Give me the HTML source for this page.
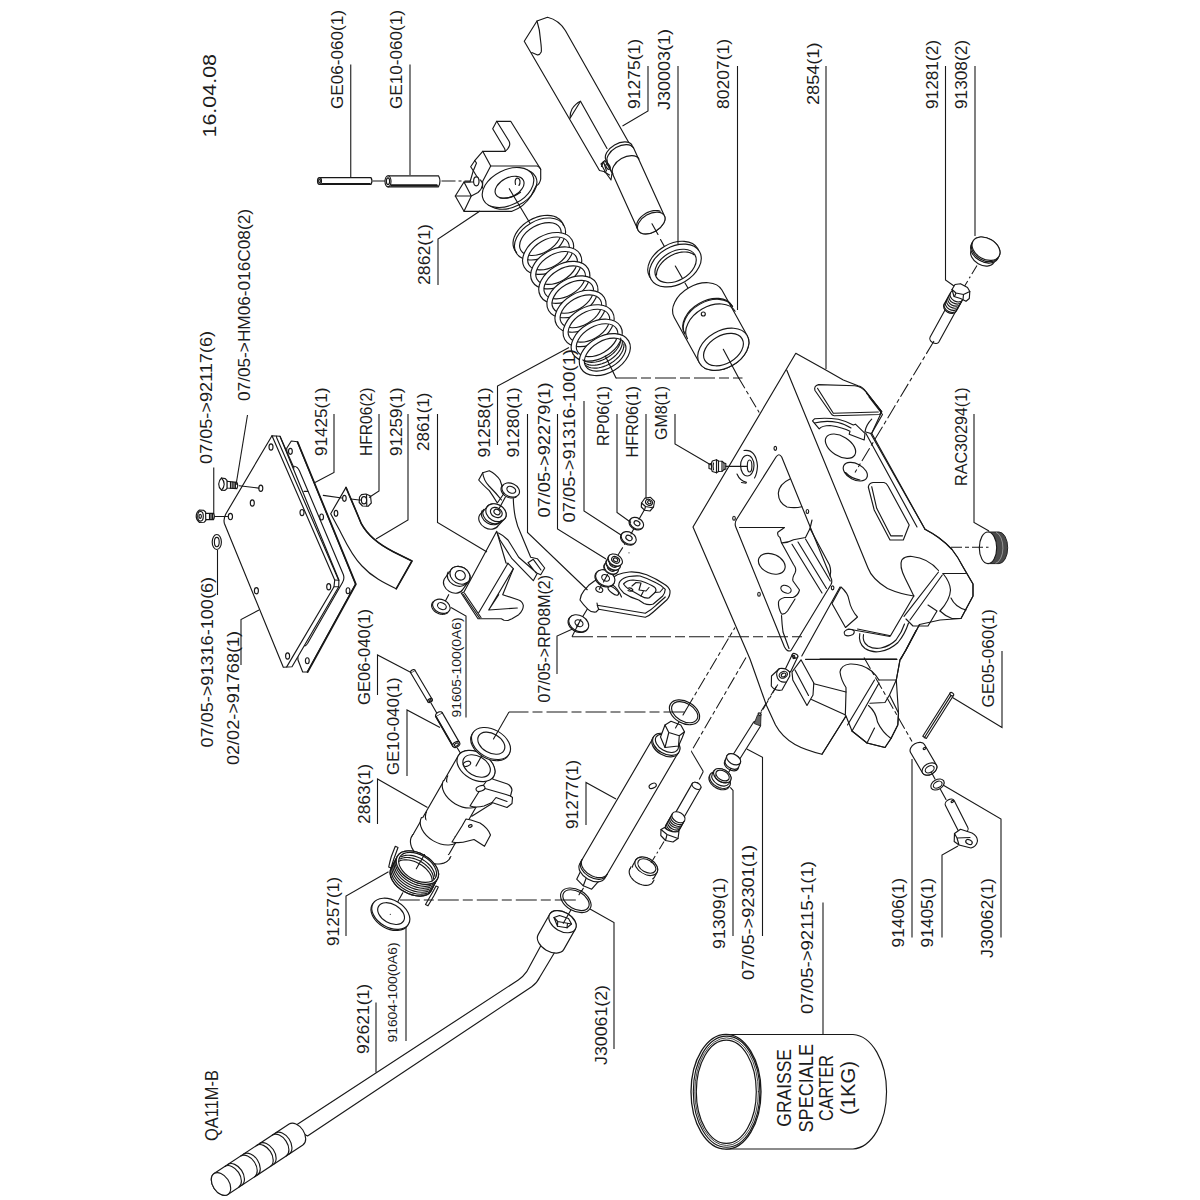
<!DOCTYPE html>
<html><head><meta charset="utf-8"><title>QA11M-B</title>
<style>
html,body{margin:0;padding:0;background:#fff;}
body{width:1200px;height:1200px;overflow:hidden;font-family:"Liberation Sans",sans-serif;}
svg{display:block}
.p{fill:none;stroke:#181818;stroke-width:1.15;stroke-linejoin:round;stroke-linecap:round}
.w{fill:#fff;stroke:#181818;stroke-width:1.15;stroke-linejoin:round;stroke-linecap:round}
.d{fill:none;stroke:#181818;stroke-width:1.05;stroke-dasharray:14 3 3 3}
</style></head><body>
<svg width="1200" height="1200" viewBox="0 0 1200 1200">
<rect width="1200" height="1200" fill="#fff"/>
<!-- 01_plate.svg -->
<g id="plate">
<!-- gasket 91425 -->
<path class="w" d="M291.3,441 L297.3,441.7 L355.6,584 L307.3,672 L302.7,672 L298,660 L286.7,448.3 Z"/>
<path class="p" style="stroke-width:1.8" d="M297.6,442 L355.8,584.2 L307.6,672"/>
<ellipse class="p" cx="290.4" cy="451.3" rx="1.9" ry="3"/>
<ellipse class="p" cx="321.6" cy="517" rx="1.9" ry="3"/>
<ellipse class="p" cx="348" cy="590.7" rx="1.9" ry="3"/>
<ellipse class="p" cx="307.3" cy="660.7" rx="1.9" ry="3"/>
<!-- plate underside boss (line c) -->
<path class="w" d="M280,436.3 L343.5,574 Q345,578.5 342.7,582 L306,645 Q303.5,647.5 304.7,645.3 L292,666.7 L272,500 Z" style="stroke:none"/>
<path class="p" d="M294,466.3 Q297.5,466.5 299.5,471 L343.3,574.5 Q344.8,578.5 342.5,582.5 L307.5,643.5 Q305.5,646.5 304.3,645.6"/>
<!-- plate 91768 -->
<path class="w" d="M272,435.7 L280,436.3 L338.9,580 L338.7,586.7 L292,666.7 L283.3,667.3 L224.4,523.5 Q223.2,519 225.8,514 Z"/>
<path class="p" d="M272,435.7 L334.7,580 L334,586.7 L286.7,666.9"/>
<path class="p" d="M276.4,436.2 L276.7,437.7 L338.7,580.3"/>
<path class="p" d="M334.7,580 L338.7,580.3 M334,586.7 L338.7,586.7"/>
<path class="p" d="M280,436.3 L294,468"/>
<path class="p" d="M304,491.3 L308,491.3"/>
<g class="p">
<ellipse cx="271" cy="447" rx="2" ry="3.1"/>
<ellipse cx="260.8" cy="488.3" rx="2" ry="3.1"/>
<ellipse cx="252.3" cy="503" rx="2" ry="3.1"/>
<ellipse cx="230.4" cy="516.5" rx="2.1" ry="3.2"/>
<ellipse cx="302" cy="512.6" rx="2" ry="3.1"/>
<ellipse cx="256.4" cy="590.7" rx="2" ry="3.1"/>
<ellipse cx="328.7" cy="586.7" rx="2" ry="3.1"/>
<ellipse cx="287.6" cy="656" rx="2" ry="3.1"/>
</g>
<!-- screw 92117 -->
<path class="w" d="M205.4,513.3 L213.5,513.3 Q215.3,516.5 213.5,519.6 L205.4,519.6 Z"/>
<path class="p" d="M209.5,513.5 V519.5 M211,513.5 V519.5 M212.5,513.6 V519.4"/>
<path class="w" d="M199.5,510 L203.5,510.3 L205.6,512 L205.8,520.5 L204,522.3 L199.5,522.5 Q196,519.5 196.2,516 Q196.4,512 199.5,510 Z"/>
<ellipse class="p" cx="200.5" cy="516.3" rx="2.8" ry="4.8"/>
<ellipse class="p" cx="200.2" cy="516.3" rx="1.2" ry="2"/>
<path class="p" d="M215,516.5 H227.5"/>
<!-- screw HM06 -->
<path class="w" d="M226.7,481.3 L236.8,482.4 Q238.6,485.5 236.8,488.6 L226.7,488 Z"/>
<path class="p" d="M230.5,481.8 V488.2 M232.2,482 V488.3 M233.9,482.2 V488.4 M235.4,482.4 V488.5"/>
<path class="w" d="M221.5,478 L225.3,478.6 L227,480.5 L227,488.5 L225,490.4 L221.5,490.2 Q218.6,487.5 218.7,484 Q218.9,480.3 221.5,478 Z"/>
<path class="p" d="M221.5,478 Q224.3,481 224.2,484.3 Q224.1,487.7 221.5,490.2"/>
<path class="p" d="M239.2,485.8 L258.8,488.1"/>
<!-- washer 91316-100(6) -->
<ellipse class="w" cx="216.8" cy="542" rx="4.6" ry="7.5"/>
<ellipse class="p" cx="216.8" cy="542" rx="2.4" ry="4.7"/>
<!-- strip 91259 -->
<path class="w" d="M346,487.4 C350,497 354,506 361.3,523.7 C368,536 380,545 393.3,551.7 L412,561 L396.2,588.8 C384,583 372,577 362,566 C352,556 346,543 340,531 L330.7,513.7 Z"/>
<path class="p" style="stroke-width:1.6" d="M346,487.4 C350,497 354,506 361.3,523.7 C368,536 380,545 393.3,551.7 L412,561 L396.2,588.8"/>
<ellipse class="p" cx="344.4" cy="498.3" rx="1.8" ry="3"/>
<ellipse class="p" cx="336" cy="513.3" rx="1.8" ry="3"/>
<path class="p" d="M323.3,495.4 L341.8,498 M350.7,499 L359.3,500"/>
<!-- nut HFR06(2) -->
<path class="w" d="M361.5,494.6 L366,494 L370.5,496 L371.3,503 L368,506.3 L362.5,506 L359.2,502.5 L359.5,497 Z"/>
<ellipse class="p" cx="364" cy="500.3" rx="2.6" ry="3.6"/>
<path class="p" d="M366.5,494.5 L366.8,506 M359.5,500 H361.4"/>
</g>

<!-- 02_block2862.svg -->
<g id="block2862">
<!-- pins GE06-060 / GE10-060 -->
<path class="w" d="M319.5,177.6 H371 Q373,181 371,184.4 H319.5 Z"/>
<ellipse class="w" cx="319.5" cy="181" rx="2" ry="3.4"/>
<ellipse class="p" cx="319.5" cy="181" rx="0.9" ry="1.9"/>
<path class="p" d="M322,183.6 H370"/>
<path class="p" d="M373,181 H385"/>
<path class="w" d="M388,175.8 H438.5 Q441.5,181.2 438.5,186.8 H388 Z"/>
<ellipse class="w" cx="388" cy="181.3" rx="3" ry="5.5"/>
<ellipse class="p" cx="388" cy="181.3" rx="1.6" ry="3.4"/>
<path class="p" d="M391,185.8 H438 M391,184.8 H437"/>
<path class="d" d="M441.5,181 H476"/>
<!-- block silhouette -->
<path class="w" d="M496.7,121.3 L510.7,121.3 L540.7,169.3 L540.7,179 Q540,184 536,186 L531,196 Q524,207 512,211.3 L464,211.3 L455.3,196 L464,182 L470,182 L473.3,170.7 L470.7,166.7 L474.7,160.7 L482.7,151.3 L505.3,151.3 L504.7,148.7 L492.7,128.7 Z"/>
<g class="p">
<path d="M496.7,121.3 L509.1,141.3 Q510.3,144 509.3,146 Q508,149.5 505.3,151.3"/>
<path d="M482.7,151.3 L490.7,166 L537.3,166 Q540,167 540.7,169.3"/>
<path d="M490.7,166 L482.7,181.3 L482.5,188"/>
<path d="M474.7,160.7 L476.5,163 L473.3,170.7 L479,180"/>
<path d="M464,182 L478.7,182 M464,182 L471.3,196 L455.3,196 M471.3,196 L464,211.3"/>
<path d="M471.3,196 L478,192.5 Q482,189 482.5,185 Q482.5,182 480.5,180"/>
</g>
<ellipse class="w" cx="476.3" cy="181.3" rx="2.7" ry="4.5"/>
<!-- boss -->
<g transform="rotate(-27 508 187.5)">
<ellipse class="p" cx="510" cy="190.5" rx="27.5" ry="17.5"/>
<ellipse class="w" cx="508" cy="187.5" rx="27.5" ry="17.5"/>
<ellipse class="p" cx="509.5" cy="188" rx="15.5" ry="9.5"/>
<path class="p" d="M496,193 Q505,199.5 517,197.5"/>
</g>
<path class="p" d="M515.5,184.5 Q514.5,180 516.5,178.3 Q519,177.5 520,181 Q520.3,184 519,185.5"/>
<path class="p" d="M509.3,188.7 L530,223.3"/>
</g>

<!-- 03_spring.svg -->
<g id="spring91258">
<path transform="rotate(-30 540.00 239.00)" d="M512.50,239.00 A27.5,18.3 0 1 0 567.50,239.00 A27.5,18.3 0 1 0 512.50,239.00 Z M517.70,239.20 A22.6,13.8 0 1 0 562.90,239.20 A22.6,13.8 0 1 0 517.70,239.20 Z" fill="#fff" fill-rule="evenodd" stroke="#181818" stroke-width="1.15"/>
<path transform="rotate(-30 548.10 253.45)" d="M520.60,253.45 A27.5,18.3 0 1 0 575.60,253.45 A27.5,18.3 0 1 0 520.60,253.45 Z M525.80,253.65 A22.6,13.8 0 1 0 571.00,253.65 A22.6,13.8 0 1 0 525.80,253.65 Z" fill="#fff" fill-rule="evenodd" stroke="#181818" stroke-width="1.15"/>
<path transform="rotate(-30 556.20 267.90)" d="M528.70,267.90 A27.5,18.3 0 1 0 583.70,267.90 A27.5,18.3 0 1 0 528.70,267.90 Z M533.90,268.10 A22.6,13.8 0 1 0 579.10,268.10 A22.6,13.8 0 1 0 533.90,268.10 Z" fill="#fff" fill-rule="evenodd" stroke="#181818" stroke-width="1.15"/>
<path transform="rotate(-30 564.30 282.35)" d="M536.80,282.35 A27.5,18.3 0 1 0 591.80,282.35 A27.5,18.3 0 1 0 536.80,282.35 Z M542.00,282.55 A22.6,13.8 0 1 0 587.20,282.55 A22.6,13.8 0 1 0 542.00,282.55 Z" fill="#fff" fill-rule="evenodd" stroke="#181818" stroke-width="1.15"/>
<path transform="rotate(-30 572.40 296.80)" d="M544.90,296.80 A27.5,18.3 0 1 0 599.90,296.80 A27.5,18.3 0 1 0 544.90,296.80 Z M550.10,297.00 A22.6,13.8 0 1 0 595.30,297.00 A22.6,13.8 0 1 0 550.10,297.00 Z" fill="#fff" fill-rule="evenodd" stroke="#181818" stroke-width="1.15"/>
<path transform="rotate(-30 580.50 311.25)" d="M553.00,311.25 A27.5,18.3 0 1 0 608.00,311.25 A27.5,18.3 0 1 0 553.00,311.25 Z M558.20,311.45 A22.6,13.8 0 1 0 603.40,311.45 A22.6,13.8 0 1 0 558.20,311.45 Z" fill="#fff" fill-rule="evenodd" stroke="#181818" stroke-width="1.15"/>
<path transform="rotate(-30 588.60 325.70)" d="M561.10,325.70 A27.5,18.3 0 1 0 616.10,325.70 A27.5,18.3 0 1 0 561.10,325.70 Z M566.30,325.90 A22.6,13.8 0 1 0 611.50,325.90 A22.6,13.8 0 1 0 566.30,325.90 Z" fill="#fff" fill-rule="evenodd" stroke="#181818" stroke-width="1.15"/>
<path transform="rotate(-30 596.70 340.15)" d="M569.20,340.15 A27.5,18.3 0 1 0 624.20,340.15 A27.5,18.3 0 1 0 569.20,340.15 Z M574.40,340.35 A22.6,13.8 0 1 0 619.60,340.35 A22.6,13.8 0 1 0 574.40,340.35 Z" fill="#fff" fill-rule="evenodd" stroke="#181818" stroke-width="1.15"/>
<path transform="rotate(-30 604.80 354.60)" d="M577.30,354.60 A27.5,18.3 0 1 0 632.30,354.60 A27.5,18.3 0 1 0 577.30,354.60 Z M582.50,354.80 A22.6,13.8 0 1 0 627.70,354.80 A22.6,13.8 0 1 0 582.50,354.80 Z" fill="#fff" fill-rule="evenodd" stroke="#181818" stroke-width="1.15"/>
<path class="p" d="M623.89,343.88 L623.94,345.50 L623.75,347.20 L623.31,348.94 L622.63,350.73 L621.72,352.52 L620.59,354.30 L619.25,356.06 L617.73,357.76 L616.03,359.38 L614.17,360.92 L612.19,362.35 L610.10,363.65 L607.93,364.81 L605.70,365.81 L603.44,366.65 L601.18,367.31 L598.95,367.78 L596.76,368.06 L594.65,368.15 L592.64,368.04 L590.76,367.74 L589.03,367.24 L587.46,366.56 L586.08,365.71" />
<path class="p" d="M622.29,340.98 L622.34,342.60 L622.15,344.30 L621.71,346.04 L621.03,347.83 L620.12,349.62 L618.99,351.40 L617.65,353.16 L616.13,354.86 L614.43,356.48 L612.57,358.02 L610.59,359.45 L608.50,360.75 L606.33,361.91 L604.10,362.91 L601.84,363.75 L599.58,364.41 L597.35,364.88 L595.16,365.16 L593.05,365.25 L591.04,365.14 L589.16,364.84 L587.43,364.34 L585.86,363.66 L584.48,362.81" />
<path class="p" d="M620.69,338.08 L620.74,339.70 L620.55,341.40 L620.11,343.14 L619.43,344.93 L618.52,346.72 L617.39,348.50 L616.05,350.26 L614.53,351.96 L612.83,353.58 L610.97,355.12 L608.99,356.55 L606.90,357.85 L604.73,359.01 L602.50,360.01 L600.24,360.85 L597.98,361.51 L595.75,361.98 L593.56,362.26 L591.45,362.35 L589.44,362.24 L587.56,361.94 L585.83,361.44 L584.26,360.76 L582.88,359.91" />
<path class="p" d="M516.63,252.59 L514.96,250.51 L513.78,248.12 L513.13,245.48 L513.01,242.65 L513.43,239.68 L514.37,236.65 L515.83,233.60 L517.77,230.61 L520.14,227.75 L522.90,225.06 L525.99,222.61 L529.35,220.45 L532.90,218.63 L536.56,217.17 L540.27,216.13 L543.94,215.50 L547.50,215.32 L550.86,215.58 L553.97,216.28 L556.74,217.40 L559.14,218.92 L561.09,220.80 L562.57,223.02 L563.54,225.51" />
<path class="p" d="M605.3,356 L616,378"/>
</g>
<!-- 04_shaft.svg -->
<g id="shaft91275">
<path class="w" d="M524.25,41.25 L537,21 L547.5,17.25 Q559,20 565.5,30.75 L633,150 L634.8,154 L620,168 L606,172 L599.5,170.5 Z"/>
<path class="p" d="M537,21 Q540,30 540.5,40 Q541.8,50 541.2,52 Q539.5,55.5 537,54.75 L531.75,52.5"/>
<path class="p" d="M570,118.5 Q569.8,113 572,109 Q575.5,103.5 580.5,101.25 L607,148.5"/>
<path class="p" d="M570.5,117.5 L580.5,101.25"/>
<path class="w" d="M638.26,230.50 L607.61,163.00 A15,9.2 -30 0 1 633.59,148.00 L664.24,215.50 A15,9.2 -30 0 1 638.26,230.50 Z"/><ellipse class="w" cx="651.25" cy="223.00" rx="15" ry="9.2" transform="rotate(-30 651.25 223.00)" />
<path class="p" d="M637.01,228.18 L636.71,227.20 L636.58,226.16 L636.61,225.06 L636.80,223.91 L637.15,222.74 L637.66,221.55 L638.33,220.35 L639.13,219.18 L640.07,218.02 L641.13,216.91 L642.30,215.85 L643.56,214.86 L644.91,213.94 L646.32,213.11 L647.78,212.38 L649.27,211.76 L650.77,211.26 L652.27,210.87 L653.74,210.61 L655.18,210.48 L656.55,210.47 L657.86,210.60 L659.07,210.85 L660.18,211.24" />
<path class="w" d="M606.11,160.30 A15,9.2 -30 0 1 632.09,145.30" />
<path class="p" d="M607.61,163.00 A15,9.2 -30 0 1 633.59,148.00" />
<path class="p" d="M613.01,174.00 A15,9.2 -30 0 1 638.99,159.00" />
<path class="w" d="M601,164 L605,160.5 L612,173 L611,180 L606,173 Z"/>
<ellipse class="p" cx="608" cy="166.5" rx="1.8" ry="3" transform="rotate(-30 608 166.5)"/>
<path class="p" d="M601.5,166.5 L603.5,161.5 L606.5,171 M604.5,172 L609.5,175"/>
<path class="p" d="M652.00,223.75 L658.00,234.50" />
<path class="p" d="M660.50,239.50 L665.50,248.50" />
</g>
<g id="ringJ30003">
<ellipse class="w" cx="673.70" cy="262.70" rx="27.9" ry="18.75" transform="rotate(-30 673.70 262.70)" />
<ellipse class="w" cx="675.30" cy="265.50" rx="27.9" ry="18.75" transform="rotate(-30 675.30 265.50)" />
<ellipse class="p" cx="675.60" cy="266.00" rx="22.3" ry="14.4" transform="rotate(-30 675.60 266.00)" />
<path class="p" d="M656.49,274.91 L656.59,273.24 L656.91,271.52 L657.46,269.77 L658.23,268.01 L659.21,266.25 L660.38,264.53 L661.75,262.84 L663.28,261.23 L664.96,259.69 L666.79,258.26 L668.72,256.94 L670.75,255.75 L672.85,254.71 L674.99,253.82 L677.16,253.10 L679.33,252.55 L681.48,252.18 L683.57,252.00 L685.60,251.99 L687.53,252.18 L689.34,252.55 L691.02,253.09 L692.54,253.82 L693.89,254.70" />
<path class="p" d="M675.30,266.00 L682.50,278.50" />
<path class="p" d="M685.00,283.00 L690.00,291.50" />
</g>
<g id="bush80207">
<path class="w" d="M699.48,363.05 L674.28,317.55 A27.5,18.5 -30 0 1 721.92,290.05 L747.12,335.55 A27.5,18.5 -30 0 1 699.48,363.05 Z"/><ellipse class="w" cx="723.30" cy="349.30" rx="27.5" ry="18.5" transform="rotate(-30 723.30 349.30)" />
<ellipse class="p" cx="723.50" cy="349.60" rx="21.5" ry="14" transform="rotate(-30 723.50 349.60)" />
<path class="p" d="M684.48,333.25 A27.5,18.5 -30 0 1 732.12,305.75" />
<path class="p" d="M684.98,334.15 A27.5,18.5 -30 0 1 732.62,306.65" />
<path class="p" d="M687.48,338.75 A27.5,18.5 -30 0 1 735.12,311.25" />
<circle class="w" cx="703.3" cy="314" r="2"/>
<path class="p" d="M723.30,349.30 L738.70,378.00" />
</g>
<!-- 05_body.svg -->
<g id="body2854">
<!-- silhouette -->
<path class="w" d="M795.8,353.3 L825.8,370 L843.3,380 L858,385.8 Q863,387 866,391.7 L881.7,411.7 L871.7,433.3 L925,529.3 Q932,533 938.5,537.5 Q946,543 952,549.5 Q958,557 962.5,566 L973,584 L973,596 L961,618.5 L940,620 L919.5,624.5 L906,650 L900,659.8 L896.3,680 L898.5,713 L897.8,725 L891,738.5 L885,747.5 L867,743 L852,731 L846,716 L822,754.3 Q805,750 795,744.5 Q782,737 775.5,725 L766.5,705.5 L750,659 L693,527 Z"/>
<g class="p">
<!-- top face edges -->
<path d="M786.7,370 L868,568 Q872,579 887.5,588.5 Q900,594 913.8,596"/>
<!-- window -->
<path d="M776,457 L736.8,519 Q734.2,523 735.8,527 L784.5,647 Q787.5,652.5 791,650.5 L831,584.5 Q832.6,581.5 831,578 L781.7,457 Q779,452.5 776,457 Z"/>
<path d="M801.8,656 L840,587"/>
<!-- small holes on top face -->
<ellipse cx="775.3" cy="448.3" rx="1.3" ry="2"/><ellipse cx="807.4" cy="511.5" rx="1.3" ry="2"/>
<ellipse cx="734" cy="518.2" rx="1.3" ry="2"/><ellipse cx="759" cy="594.2" rx="1.3" ry="2"/>
<ellipse cx="832.6" cy="587.8" rx="1.3" ry="2"/>
<!-- grease boss -->
<ellipse cx="747.3" cy="465.6" rx="6.7" ry="10.4"/>
<ellipse cx="749.6" cy="466" rx="2.3" ry="6"/>
<path d="M744,450.5 Q756,449 757.5,466 Q757,474 754.5,478"/>
<path d="M737,474 Q740,481 746.5,482.3 M741.5,482.5 L746,483.2"/>
<!-- inside window -->
<path d="M790,479 Q779,484 778.3,493.3 Q778.5,503 787,507 Q795,508.5 801.7,506.7"/>
<path d="M739.5,527.5 H784.5 L777.8,532.3 Q777,536 780,537.5 L781.5,542.8 Q788,543 793.5,539.8 L805.5,537.5 L810,528.5 L812,520"/>
<path d="M781.5,542.8 L793.5,564.5 Q797,569 795,573 Q792,578 793,581 L799.5,590 Q798,596 793,597.5 L784.5,597.5 Q779,599 778.5,602 Q778,608 781.5,614 Q785,614.5 787.5,611 L795,599"/>
<path d="M781.5,615.5 Q782,625 783,632 L789,648.5"/>
<ellipse cx="771.8" cy="563.8" rx="14" ry="9.6" transform="rotate(24 771.8 563.8)"/>
<ellipse cx="786" cy="589.3" rx="5.4" ry="3.6" transform="rotate(24 786 589.3)"/>
<path d="M792,544.3 L822,593 M798,542 L826.5,588.5 M805.5,539 L830.3,581 M810,528.5 L829.5,565 Q831.5,571 830,576"/>
<!-- side face: pad 1 -->
<path d="M818.5,384.6 L855,385.8 Q862,387 865.8,391.7 L880.5,410.5 Q881.5,413.8 879.2,414.5 L834.2,415.8 Q832,415.5 831,413.5 L815,390.5 Q813.5,386 818.5,384.6 Z"/>
<path d="M817.5,388.3 L833.3,413.3 L878.3,412"/>
<path d="M866.7,393.3 L881.7,411.7 M869,397 L882.5,414.5 L871.7,433.3"/>
<path d="M871.7,419.2 Q866,425 865,431.7 L870,433.3"/>
<!-- bracket -->
<path d="M812.5,420.8 L814.5,418.8 Q826,417.5 838.3,419.2 Q846,421 853.3,425 L855.4,424.2 L865,433.3 L864.2,440 L849.2,434.2 L850,431.3 Q843,427.5 830,425.5 Q822,425.5 819.2,428.8 Z"/>
<path d="M814.5,423 Q826,420 838,422.5 Q846,424.5 851,428"/>
<!-- rail -->
<path d="M865.8,433.3 L917,527 M870.5,433.3 L925,529.3"/>
<!-- holes -->
<ellipse cx="840.5" cy="446.2" rx="16.8" ry="9.8" transform="rotate(32 840.5 446.2)"/>
<ellipse cx="855.3" cy="471.7" rx="13" ry="8" transform="rotate(28 855.3 471.7)"/>
<path d="M845.5,472.5 Q851,478.5 860,480"/>
<!-- pad 2 -->
<path d="M873,482.5 L884,482.5 Q886.5,483 888,486 L909.2,525 L903.3,540 L890,540 L874.2,510 L868.3,487 Q869,483 873,482.5 Z"/>
<path d="M871.7,486.7 L876.7,508.3 L890.8,535.8 L902.5,535.8"/>
<!-- upper fork arm -->
<path d="M925,529.3 Q932,533 938.5,537.5 Q946,543 952,549.5 Q958,557 962.5,566 L973,584 L973,596 L961,618.5 L952,618.5 Q945,616 940,611"/>
<path d="M943,573.5 H965.5"/>
<path d="M943,573.5 Q950,582 950.5,590 Q950,600 940,611"/>
<path d="M951,598 Q955,607 966,610"/>
<!-- U cutout 1 -->
<path d="M913.8,596 Q910,588 905,578 Q899,566 901.8,560 Q905,556 912,556.5 Q928,558 938.5,570.5"/>
<!-- rod 1 -->
<path d="M938.5,572 L904,616.3 M942.3,575 L910,620"/>
<!-- lower right block -->
<path d="M928,605 L937,611 L928,626 L913,626 L906,619"/>
<!-- lower fork edges -->
<path d="M913.8,596 L890.5,635.8 L857.5,629"/>
<path d="M919.5,624.5 L906,650 L900,659.8 L896.3,680"/>
<path d="M916,630.5 L901,659"/>
<!-- semicircle arcs -->
<path d="M859.8,633.5 Q858,643 865,648.5 Q872,653 880,651.5 Q890,650 898,642.5 Q905,634 908.5,623"/>
<path d="M863.5,634.5 Q862,642 868,646 Q874,649.5 881,648 Q890,646 896,640 Q902,632 904.5,624"/>
<!-- clip -->
<path d="M844.5,631.5 Q847,628.5 852,629.5 Q856,631 853,634.5 Q848,637 845,635 Q843.5,633.5 844.5,631.5 Z"/>
<path d="M848,629 L890,636.5"/>
<!-- parallelogram plate -->
<path d="M841,587 L832,603.5 L845.5,627.5 L857.5,617 Q851,610 849,600 Q848,593 841,587 Z"/>
<!-- front horizontal -->
<path d="M805.5,659.3 H897"/>
<path d="M820,659 H896.5"/>
<!-- blade -->
<path d="M801,659.8 L813.8,683 L813,695 L807,705.5 L792.8,680 L792,672 Z"/>
<path d="M795,670 L808.5,695.5"/>
<!-- lower arm edges -->
<path d="M813.8,683.8 L846,692 M811.5,699.5 L844.5,714.5"/>
<!-- U cutout 2 -->
<path d="M845.3,716 L846,692 L846,687.5 Q841,680 840,672 Q841,665 850,664 Q862,663.5 871.5,671 Q876,675 879,680"/>
<!-- rod 2 -->
<path d="M874.5,680 L847.5,725 M879,683 L852,731"/>
<path d="M879,680 H896.3"/>
<path d="M896.3,680 L889.5,695 L885,702.5 L870,703.3"/>
<path d="M889.5,695 L898.5,713 L897.8,725 L891,738.5 L885,747.5 L867,743 L852,731"/>
<path d="M868.5,705.5 Q876,712 877.5,722 Q882,732 891,738.5"/>
<path d="M867,743 L874.5,728"/>
<path d="M846,716 L822,754.3"/>
</g>
<!-- small pin & bush at bottom-left of body front -->
<g>
<path class="w" d="M792.3,654.5 L797.8,656.8 L790.5,672 L785,669.8 Z"/>
<ellipse class="w" cx="795" cy="655.8" rx="3" ry="2" transform="rotate(25 795 655.8)"/>
<ellipse class="p" cx="793.8" cy="657" rx="1" ry="1.6"/>
<path class="w" d="M771.5,676 L779.5,668.5 Q786,667.5 789.5,672 L789.8,676 L782,690 Q775,691.5 771.3,686 Z"/>
<ellipse class="p" cx="783.3" cy="674.8" rx="4.3" ry="3.2" transform="rotate(-25 783.3 674.8)"/>
<ellipse class="p" cx="783.6" cy="675" rx="2.4" ry="1.8" transform="rotate(-25 783.6 675)"/>
<path class="p" d="M779.5,668.5 Q775,672 777.5,678 Q780,683 786,682"/>
</g>
</g>

<!-- 06_bracket.svg -->
<g id="bracket2861">
<path class="w" d="M496.7,531.3 L464,592 L461.3,593.3 L478,618.7 L501.3,618.7 L504,620.3 L508,620.5 L512,618.7 L518.7,614.7 Q523.5,610 523.3,605.3 Q522,601 518.7,600 L502.7,594.7 L513.3,568.7 L508,563.3 L506,563 Z"/>
<path class="p" d="M508,563.3 L478.7,612.7 M513.3,568.7 L488.7,610 L517.3,608 M498.7,594.7 L488.7,610"/>
<path class="p" d="M463,594 L479.5,618 M464.6,593.2 L481,617.5"/>
<path class="w" d="M469.18,580.60 L462.68,589.60 A10.6,8.3 210 0 1 444.32,579.00 L450.82,570.00 A10.6,8.3 210 0 1 469.18,580.60 Z"/><ellipse class="w" cx="460.00" cy="575.30" rx="10.6" ry="8.3" transform="rotate(210 460.00 575.30)" />
<ellipse class="p" cx="460.30" cy="575.30" rx="5.2" ry="4.6" transform="rotate(210 460.30 575.30)" />
<path class="p" d="M466.48,582.70 A10.6,8.3 210 0 1 448.12,572.10" />
<path d="M513.3,498.7 Q513.5,508 515.3,517.3 Q517,526 521.3,534.7 L530.7,557.3 L537.3,558.7 L544.7,568 L540.7,574.7 L537.3,573.3 L533.3,580.7 L512,558.7 L500,540 L496.7,531.3 L490,524 L500,505 Z" fill="#fff" stroke="none"/>
<path class="p" d="M513.3,498.7 Q513.5,508 515.3,517.3 Q517,526 521.3,534.7 L530.7,557.3 L537.3,558.7 L544.7,568 L540.7,574.7 L537.3,573.3 L533.3,580.7 L512,558.7 L500,540 L496.7,531.3"/>
<path class="p" d="M498.5,533 Q503,535 508,540 L518.7,557.3 L536.5,572.8 M528,562.7 L533.3,559.3 L541,570 M528,562.7 L536,573"/>
<path class="w" d="M482.7,472.7 L489.3,470.7 Q496,474 500,480 L502,486 L505,492 L497.3,503 Q493,496 489.3,490.7 Q482,484 478.7,480 Z"/>
<path class="p" d="M482.7,472.7 Q483.5,480 489,486 Q496,493 501.5,500"/>
<path class="w" d="M505.27,518.05 L498.17,525.65 A10.7,8.3 210 0 1 479.63,514.95 L486.73,507.35 A10.7,8.3 210 0 1 505.27,518.05 Z"/><ellipse class="w" cx="496.00" cy="512.70" rx="10.7" ry="8.3" transform="rotate(210 496.00 512.70)" />
<ellipse class="p" cx="496.30" cy="512.50" rx="6.2" ry="4.7" transform="rotate(210 496.30 512.50)" />
<ellipse class="p" cx="497.00" cy="512.00" rx="3.2" ry="2.5" transform="rotate(210 497.00 512.00)" />
<path class="p" d="M502.27,520.15 A10.7,8.3 210 0 1 483.73,509.45" />
<path class="p" d="M500.77,521.15 A10.7,8.3 210 0 1 482.23,510.45" />
<path class="p" d="M505.30,497.30 L498.70,509.30" />
<ellipse class="w" cx="510.70" cy="490.00" rx="9.2" ry="6.6" transform="rotate(25 510.70 490.00)" /><ellipse class="p" cx="511.30" cy="489.80" rx="4.6" ry="3.1679999999999997" transform="rotate(25 511.30 489.80)" /><path class="p" d="M516.68,496.60 L515.91,497.11 L515.03,497.52 L514.06,497.81 L513.02,497.98 L511.93,498.03 L510.80,497.96 L509.65,497.77 L508.50,497.47 L507.38,497.05 L506.29,496.52 L505.27,495.90 L504.33,495.19 L503.48,494.41 L502.73,493.57 L502.11,492.68 L501.62,491.77 L501.27,490.83 L501.06,489.90 L501.01,488.99 L501.10,488.11 L501.35,487.28 L501.74,486.51 L502.26,485.81 L502.92,485.20" />
<path class="p" d="M445.30,601.30 L448.70,594.70" />
<ellipse class="w" cx="441.30" cy="606.30" rx="9.2" ry="6.6" transform="rotate(25 441.30 606.30)" /><ellipse class="p" cx="441.90" cy="606.10" rx="4.6" ry="3.1679999999999997" transform="rotate(25 441.90 606.10)" /><path class="p" d="M447.28,612.90 L446.51,613.41 L445.63,613.82 L444.66,614.11 L443.62,614.28 L442.53,614.33 L441.40,614.26 L440.25,614.07 L439.10,613.77 L437.98,613.35 L436.89,612.82 L435.87,612.20 L434.93,611.49 L434.08,610.71 L433.33,609.87 L432.71,608.98 L432.22,608.07 L431.87,607.13 L431.66,606.20 L431.61,605.29 L431.70,604.41 L431.95,603.58 L432.34,602.81 L432.86,602.11 L433.52,601.50" />
</g>
<!-- 07_cam.svg -->
<g id="cam91280">
<path class="p" d="M578.70,623.30 L599.30,589.30" />
<path class="w" d="M588.7,585.3 L594.7,580.7 Q600,579 606,582 L617.3,574.7 Q623,572.5 629.3,572 Q638,571.5 646.7,574.7 Q656,578.5 664,584 Q669,587 670,590.7 Q670.5,596 666.7,600 L653.3,612 Q649,616 645.3,617.3 L598.7,609.3 L596,612 Q591,612.5 588,609.3 Q583,604.5 580,600 Q580.5,595 584,590.7 Z"/>
<path class="p" d="M597.3,605.3 L645.3,613.3 Q651,610 656,605.3 L665.3,597"/>
<path class="p" d="M597,603 Q597.5,607 598.7,609.3"/>
<path class="p" d="M620,581.3 Q623,577.5 629,576.5 Q636,575.5 640,576 Q648,578.5 656,582.7 Q662,585.5 665.3,589.3 Q665,593 662.7,596 L653.3,604 Q649,605.5 644,603.5 L638.7,600 Q630,597.5 624,593.3 Q619,588 618.7,586 Q618.7,583 620,581.3 Z"/>
<path class="p" d="M623.5,584 Q627,580 633,580 L641,581 Q650,584 655,587.5 Q657,590 655,592.5 L649,598 Q645,598.5 641,596 L634,592 Q627,589 623.5,584 Z"/>
<path class="p" d="M632,586 L636,582.5 L641,583 L639,590 L646,591 L649,587.5 M641,596 L643.5,591 M628,590.5 Q631,592 633,590 Q631.5,587.5 628.5,588 M655,592.5 L660,592 L663,588.5"/>
<ellipse class="p" cx="613.3" cy="590.7" rx="6.3" ry="2.6" transform="rotate(38 613.3 590.7)"/>
<path class="p" d="M606,582 Q613,584 617,589 Q620,593 621.5,597"/>
<ellipse class="p" cx="599.30" cy="589.50" rx="3.6" ry="2.6" transform="rotate(28 599.30 589.50)" />
<path class="p" d="M599.30,589.30 L605.30,578.00" />
<path class="w" d="M613.52,583.85 L612.23,585.38 L610.42,586.45 L608.22,587.00 L605.77,586.98 L603.24,586.39 L600.80,585.28 L598.62,583.72 L596.85,581.83 L595.61,579.71 L594.97,577.53 L595.00,575.43 L595.68,573.55 L596.97,572.02 L598.77,570.95 L600.98,570.40 L603.43,570.42 L605.96,571.01 L608.40,572.12 L610.58,573.68 L612.35,575.58 L613.59,577.69 L614.22,579.87 L614.20,581.97 L613.52,583.85" /><ellipse class="w" cx="605.30" cy="578.00" rx="10.3" ry="7.6" transform="rotate(30 605.30 578.00)" /><ellipse class="p" cx="605.60" cy="577.90" rx="4.12" ry="3.04" transform="rotate(30 605.60 577.90)" />
<path class="p" d="M603.50,582.00 L607.50,574.50" />
<path class="w" d="M587.18,629.30 L585.86,630.87 L584.00,631.97 L581.73,632.52 L579.21,632.50 L576.61,631.90 L574.10,630.75 L571.86,629.15 L570.03,627.20 L568.75,625.03 L568.10,622.79 L568.12,620.63 L568.82,618.70 L570.14,617.13 L572.00,616.03 L574.27,615.48 L576.79,615.50 L579.39,616.10 L581.90,617.25 L584.14,618.85 L585.97,620.80 L587.25,622.97 L587.90,625.21 L587.88,627.37 L587.18,629.30" /><ellipse class="w" cx="578.70" cy="623.30" rx="10.6" ry="7.8" transform="rotate(30 578.70 623.30)" /><ellipse class="p" cx="579.00" cy="623.20" rx="4.24" ry="3.12" transform="rotate(30 579.00 623.20)" />
<path class="p" d="M576.80,627.00 L580.80,619.50" />
<path class="w" d="M617.46,572.22 L616.54,573.30 L615.23,574.05 L613.62,574.41 L611.83,574.37 L609.98,573.92 L608.18,573.10 L606.57,571.95 L605.25,570.57 L604.32,569.04 L603.83,567.47 L603.82,565.96 L604.30,564.62 L605.22,563.54 L606.53,562.79 L608.14,562.43 L609.93,562.47 L611.78,562.92 L613.58,563.74 L615.19,564.89 L616.51,566.27 L617.44,567.80 L617.93,569.37 L617.94,570.88 L617.46,572.22" /><ellipse class="w" cx="611.30" cy="568.00" rx="7.6" ry="5.4" transform="rotate(30 611.30 568.00)" /><ellipse class="p" cx="611.60" cy="567.90" rx="4.18" ry="2.9700000000000006" transform="rotate(30 611.60 567.90)" />
<path class="w" d="M619.46,568.22 L618.54,569.30 L617.23,570.05 L615.62,570.41 L613.83,570.37 L611.98,569.92 L610.18,569.10 L608.57,567.95 L607.25,566.57 L606.32,565.04 L605.83,563.47 L605.82,561.96 L606.30,560.62 L607.22,559.54 L608.53,558.79 L610.14,558.43 L611.93,558.47 L613.78,558.92 L615.58,559.74 L617.19,560.89 L618.51,562.27 L619.44,563.80 L619.93,565.37 L619.94,566.88 L619.46,568.22" /><ellipse class="w" cx="613.30" cy="564.00" rx="7.6" ry="5.4" transform="rotate(30 613.30 564.00)" /><ellipse class="p" cx="613.60" cy="563.90" rx="4.18" ry="2.9700000000000006" transform="rotate(30 613.60 563.90)" />
<path class="w" d="M621.46,564.22 L620.54,565.30 L619.23,566.05 L617.62,566.41 L615.83,566.37 L613.98,565.92 L612.18,565.10 L610.57,563.95 L609.25,562.57 L608.32,561.04 L607.83,559.47 L607.82,557.96 L608.30,556.62 L609.22,555.54 L610.53,554.79 L612.14,554.43 L613.93,554.47 L615.78,554.92 L617.58,555.74 L619.19,556.89 L620.51,558.27 L621.44,559.80 L621.93,561.37 L621.94,562.88 L621.46,564.22" /><ellipse class="w" cx="615.30" cy="560.00" rx="7.6" ry="5.4" transform="rotate(30 615.30 560.00)" /><ellipse class="p" cx="615.60" cy="559.90" rx="4.18" ry="2.9700000000000006" transform="rotate(30 615.60 559.90)" />
<ellipse class="p" cx="615.60" cy="559.80" rx="2.3" ry="1.7" transform="rotate(30 615.60 559.80)" />
<path class="d" style="stroke-dasharray:9 3 2 3" d="M618,555 L626.5,541.5"/>
<circle cx="629" cy="552.8" r="0.6" fill="#222"/>
<path class="w" d="M634.93,542.70 L633.94,543.86 L632.55,544.68 L630.85,545.08 L628.95,545.05 L626.99,544.59 L625.10,543.72 L623.41,542.52 L622.02,541.05 L621.05,539.42 L620.55,537.75 L620.56,536.14 L621.07,534.70 L622.06,533.54 L623.45,532.72 L625.15,532.32 L627.05,532.35 L629.01,532.81 L630.90,533.68 L632.59,534.88 L633.98,536.35 L634.95,537.98 L635.45,539.65 L635.44,541.26 L634.93,542.70" /><ellipse class="w" cx="628.70" cy="538.00" rx="8" ry="5.8" transform="rotate(30 628.70 538.00)" /><ellipse class="p" cx="629.00" cy="537.90" rx="3.36" ry="2.436" transform="rotate(30 629.00 537.90)" />
<path class="p" d="M631.00,534.00 L634.50,527.50" />
<path class="w" d="M642.41,527.70 L641.50,528.76 L640.22,529.50 L638.66,529.86 L636.91,529.83 L635.10,529.39 L633.35,528.59 L631.78,527.48 L630.50,526.12 L629.59,524.63 L629.12,523.09 L629.12,521.61 L629.59,520.30 L630.50,519.24 L631.78,518.50 L633.34,518.14 L635.09,518.17 L636.90,518.61 L638.65,519.41 L640.22,520.52 L641.50,521.88 L642.41,523.37 L642.88,524.91 L642.88,526.39 L642.41,527.70" /><ellipse class="w" cx="636.70" cy="523.30" rx="7.4" ry="5.3" transform="rotate(30 636.70 523.30)" /><ellipse class="p" cx="637.00" cy="523.20" rx="3.108" ry="2.226" transform="rotate(30 637.00 523.20)" />
<path class="p" d="M639.00,519.30 L644.00,510.50" />
<path class="w" d="M641.5,503 L645,498 L650.5,497.3 L654.5,501.3 L653.5,507 L650,511 L644.5,510.2 L641.3,507 Z"/>
<ellipse class="p" cx="649.00" cy="502.30" rx="3.6" ry="2.8" transform="rotate(30 649.00 502.30)" />
<ellipse class="p" cx="649.30" cy="502.20" rx="1.8" ry="1.4" transform="rotate(30 649.30 502.20)" />
<path class="p" d="M641.5,503 L645.5,506.5 L644.5,510.2 M645.5,506.5 L651,507.5 L653.5,507"/>
</g>
<g id="gm8">
<path class="w" d="M709,464.3 L711.5,463.3 L712.3,461 L716.5,459.8 L718.5,461 L722,461.2 L724,463 L725.8,463.5 L725.8,469 L724,469.6 L722,471.3 L718.5,471.5 L716.5,472.8 L712.3,471.5 L711.5,469.3 L709,468.5 Z"/>
<path class="p" d="M711.5,463.3 V469.3 M716.5,459.8 V472.8 M718.5,461 V471.5 M722,461.2 V471.3 M724,463 V469.6 M713.5,463 Q712.5,466.3 713.5,469.8"/>
<path class="p" d="M725.80,466.30 L747.00,466.30" />
</g>
<!-- 08_right.svg -->
<g id="rightparts">
<path class="d" style="stroke-dasharray:10 3 2 3" d="M977,265.5 L962.5,289.5"/>
<path class="w" d="M995.77,259.05 L993.77,262.65 A12.9,8.9 210 0 1 971.43,249.75 L973.43,246.15 A12.9,8.9 210 0 1 995.77,259.05 Z"/><ellipse class="w" cx="984.60" cy="252.60" rx="12.9" ry="8.9" transform="rotate(210 984.60 252.60)" />
<path class="w" d="M998.99,256.20 L997.59,258.90 A15,10.4 210 0 1 971.61,243.90 L973.01,241.20 A15,10.4 210 0 1 998.99,256.20 Z"/><ellipse class="w" cx="986.00" cy="248.70" rx="15" ry="10.4" transform="rotate(210 986.00 248.70)" />
<path class="p" d="M998.29,257.50 A15,10.4 210 0 1 972.31,242.50" />
<path class="w" d="M955.33,312.00 L938.83,342.00 A5,3.6 210 0 1 930.17,337.00 L946.67,307.00 A5,3.6 210 0 1 955.33,312.00 Z"/>
<path class="w" d="M963.06,299.00 L956.06,311.50 A7,5 210 0 1 943.94,304.50 L950.94,292.00 A7,5 210 0 1 963.06,299.00 Z"/>
<path class="p" d="M956.56,310.50 A7,5 210 0 1 944.44,303.50" />
<path class="p" d="M957.76,308.40 A7,5 210 0 1 945.64,301.40" />
<path class="p" d="M958.96,306.30 A7,5 210 0 1 946.84,299.30" />
<path class="p" d="M960.16,304.20 A7,5 210 0 1 948.04,297.20" />
<path class="p" d="M961.36,302.10 A7,5 210 0 1 949.24,295.10" />
<path class="p" d="M962.56,300.00 A7,5 210 0 1 950.44,293.00" />
<path class="w" d="M952,289.5 L955,284.5 L960.5,283.7 L967.5,287.5 L969.8,291.5 L969.3,298.5 L966,301.3 L960.5,298.5 L954,296.5 Z"/>
<path class="p" d="M952,289.5 L956,293 L963.5,294.5 L969.8,291.5 M956,293 L954.5,296.5 M963.5,294.5 L963,299.5"/>
<path d="M988,532 H999 A8.7,15.8 0 0 1 999,563.6 H988 Z" fill="#4a4a4a" stroke="#222" stroke-width="1"/>
<ellipse class="w" cx="988" cy="547.8" rx="8.7" ry="15.8"/>
<path d="M990,563.4 A8.7,15.8 0 0 0 990.5,532.3" fill="none" stroke="#fff" stroke-width="0.8" transform="translate(5.5,0)" opacity="0.5"/>
<path class="d" style="stroke-dasharray:11 3 4 3" d="M951,547.3 H988.5"/>
<path class="w" d="M950,693.2 L953.6,695.2 L926.3,738.5 L922.8,736.3 Z"/>
<path class="p" d="M951.5,694.6 L924.3,737.8"/>
<ellipse class="w" cx="951.80" cy="694.20" rx="2.1" ry="1.5" transform="rotate(30 951.80 694.20)" />
<path class="w" d="M922.57,773.00 L910.57,752.50 A8,5.4 -30 0 1 924.43,744.50 L936.43,765.00 A8,5.4 -30 0 1 922.57,773.00 Z"/><ellipse class="w" cx="929.50" cy="769.00" rx="8" ry="5.4" transform="rotate(-30 929.50 769.00)" />
<ellipse class="p" cx="929.70" cy="769.30" rx="4.8" ry="3.1" transform="rotate(-30 929.70 769.30)" />
<ellipse class="p" cx="924.50" cy="748.50" rx="1.4" ry="1" transform="rotate(-30 924.50 748.50)" />
<ellipse class="w" cx="937.50" cy="784.50" rx="7.2" ry="4.8" transform="rotate(-30 937.50 784.50)" />
<ellipse class="p" cx="937.70" cy="784.70" rx="4.7" ry="3" transform="rotate(-30 937.70 784.70)" />
<path class="w" d="M959.17,832.50 L945.47,805.50 A5,3.4 -30 0 1 954.13,800.50 L967.83,827.50 A5,3.4 -30 0 1 959.17,832.50 Z"/>
<ellipse class="p" cx="952.30" cy="801.50" rx="1.3" ry="0.9" transform="rotate(-30 952.30 801.50)" />
<path class="w" d="M954.5,833.5 L960.5,829.3 L972,833 Q977.5,836 977.5,841 Q976.5,846.5 971,848 L959,845 L954.2,841.5 Z"/>
<path class="p" d="M954.5,833.5 L957,838 L970,837.5 M957,838 L959,845"/>
<ellipse class="p" cx="969.00" cy="842.00" rx="3.4" ry="2.3" transform="rotate(25 969.00 842.00)" />
<path class="p" d="M931.50,772.50 L935.00,779.00" />
<path class="p" d="M940.50,789.50 L946.00,799.50" />
</g>
<g id="can">
<path class="w" d="M726,1034.5 H853 A35,57.3 0 0 1 853,1149 H726 Z"/>
<ellipse class="w" cx="726" cy="1091.7" rx="35" ry="57.4" style="stroke-width:1.3"/>
<ellipse class="p" cx="726.6" cy="1091.7" rx="33.3" ry="55.6"/>
<ellipse class="p" cx="726.6" cy="1091.7" rx="31.8" ry="53.8" style="stroke-width:0.8"/>
<ellipse class="p" cx="726.3" cy="1091.7" rx="30" ry="51.6" style="stroke-width:1.2"/>
</g>
<!-- 09_cyl2863.svg -->
<g id="cyl2863">
<path class="w" d="M410.65,672.78 L427.85,701.78 L432.15,699.22 L414.95,670.22 Z"/>
<ellipse class="w" cx="430.00" cy="700.50" rx="2.6" ry="1.7" transform="rotate(-30 430.00 700.50)" />
<ellipse class="p" cx="430.10" cy="700.60" rx="1.3" ry="0.8" transform="rotate(-30 430.10 700.60)" />
<path class="w" d="M410.63,672.75 L410.55,672.56 L410.50,672.35 L410.49,672.12 L410.53,671.89 L410.60,671.65 L410.70,671.40 L410.85,671.16 L411.02,670.92 L411.23,670.70 L411.47,670.49 L411.72,670.29 L412.00,670.11 L412.29,669.96 L412.59,669.84 L412.89,669.74 L413.19,669.67 L413.48,669.64 L413.77,669.64 L414.03,669.66 L414.28,669.72 L414.49,669.81 L414.68,669.93 L414.84,670.08 L414.97,670.25" />
<path class="p" d="M431.00,703.00 L437.00,713.50" />
<path class="w" d="M435.79,716.35 L453.09,746.35 L459.51,742.65 L442.21,712.65 Z"/><path class="p" style="stroke-width:1.8" d="M435.79,716.35 L453.09,746.35"/>
<path class="w" d="M435.80,716.35 L435.67,716.06 L435.59,715.75 L435.58,715.41 L435.62,715.06 L435.73,714.70 L435.89,714.34 L436.10,713.98 L436.36,713.62 L436.67,713.29 L437.01,712.97 L437.39,712.68 L437.80,712.42 L438.23,712.20 L438.67,712.01 L439.12,711.87 L439.56,711.78 L440.00,711.72 L440.42,711.72 L440.81,711.77 L441.17,711.86 L441.50,712.00 L441.78,712.18 L442.02,712.39 L442.20,712.65" />
<ellipse class="w" cx="456.30" cy="744.50" rx="3.8" ry="2.5" transform="rotate(-30 456.30 744.50)" />
<ellipse class="p" cx="456.40" cy="744.60" rx="2.2" ry="1.4" transform="rotate(-30 456.40 744.60)" />
<path class="p" d="M457.30,748.00 L461.00,754.00" />
<path class="w" d="M493.75,776.25 L449.25,853.75 A20.5,13.6 210 0 1 413.75,833.25 L458.25,755.75 A20.5,13.6 210 0 1 493.75,776.25 Z"/>
<path class="w" d="M450.85,856.50 L449.74,858.04 L448.33,859.38 L446.63,860.47 L444.68,861.30 L442.50,861.87 L440.15,862.16 L437.65,862.16 L435.05,861.88 L432.39,861.31 L429.73,860.48 L427.10,859.39 L424.55,858.06 L422.13,856.51 L419.87,854.78 L417.81,852.89 L416.00,850.88 L414.45,848.77 L413.20,846.60 L412.27,844.42 L411.68,842.25 L411.42,840.14 L411.52,838.12 L411.96,836.23 L412.75,834.50" />
<path class="w" d="M449.85,858.30 L448.74,859.84 L447.33,861.18 L445.63,862.27 L443.68,863.10 L441.50,863.67 L439.15,863.96 L436.65,863.96 L434.05,863.67 L431.39,863.11 L428.73,862.28 L426.10,861.19 L423.55,859.86 L421.13,858.31 L418.87,856.58 L416.81,854.69 L415.00,852.67 L413.45,850.57 L412.20,848.40 L411.27,846.22 L410.68,844.05 L410.42,841.94 L410.52,839.92 L410.96,838.03 L411.75,836.30" />
<path class="p" d="M462.05,832.25 A20.5,13.6 210 0 1 426.55,811.75" />
<path class="w" d="M459.55,839.50 A22,14.5 210 0 1 421.45,817.50" />
<path class="w" d="M466,819 L471,820 L480,823 Q488,828 490.5,835 L484.5,846.3 L474,839.5 L468,841 Q460,843.5 452,842 L462,826 Z" />
<ellipse class="p" cx="470.30" cy="826.00" rx="1.9" ry="1.2" transform="rotate(-20 470.30 826.00)" />
<path class="p" d="M492.00,803.50 L471.80,816.30" />
<path class="p" d="M483.25,796.25 A20.5,13.6 210 0 1 447.75,775.75" />
<path class="w" d="M481.55,802.50 A22,14.5 210 0 1 443.45,780.50" />
<path class="w" d="M489,777.5 L494,779.5 L507.5,784 Q511.5,786 512,790 L510.5,796 L512.5,797.5 L512,803.5 L507,807.5 L492,802.5 L484,806 Q476,808 470,806 L480,790 Z"/>
<path class="p" d="M485,788.5 L506,794.5 L510.5,796 M492,802.5 L496,797.5 L507,801.5"/>
<ellipse class="w" cx="480.50" cy="788.50" rx="4.6" ry="2.7" transform="rotate(-18 480.50 788.50)" />
<ellipse class="w" cx="476.00" cy="766.00" rx="20.5" ry="13.6" transform="rotate(210 476.00 766.00)" />
<ellipse class="p" cx="476.60" cy="766.00" rx="14.8" ry="9.8" transform="rotate(210 476.60 766.00)" />
<ellipse class="p" cx="467.00" cy="763.80" rx="3.8" ry="2.4" transform="rotate(-20 467.00 763.80)" />
</g>
<g id="ringJ30061a">
<path class="p" d="M491.80,737.50 L476.00,766.00" />
<ellipse class="w" cx="490.20" cy="744.70" rx="21" ry="14" transform="rotate(210 490.20 744.70)" />
<ellipse class="w" cx="491.00" cy="743.50" rx="21" ry="14" transform="rotate(210 491.00 743.50)" />
<ellipse class="p" cx="491.30" cy="743.20" rx="14.6" ry="9.6" transform="rotate(210 491.30 743.20)" />
<path class="p" d="M493.50,739.00 L497.80,731.50" />
</g>
<g id="spring91257">
<path class="w" d="M395.3,846.3 L398,847.5 L394,858.5 Q392.5,863 391,868 L388.7,867 Q390,861 391.3,856.5 Z"/>
<path class="w" d="M436,886 L438.3,887 Q436,892 433.8,896 L428,905.8 L425.5,904.5 L431,895 Q434,890 436,886 Z"/>
<path class="w" d="M437.32,879.10 L431.12,890.90 A23,14.1 210 0 1 391.28,867.90 L397.48,856.10 A23,14.1 210 0 1 437.32,879.10 Z"/>
<path class="p" d="M431.12,890.90 A23,14.1 210 0 1 391.28,867.90" />
<path class="p" d="M432.15,888.93 A23,14.1 210 0 1 392.31,865.93" />
<path class="p" d="M433.19,886.97 A23,14.1 210 0 1 393.35,863.97" />
<path class="p" d="M434.22,885.00 A23,14.1 210 0 1 394.38,862.00" />
<path class="p" d="M435.25,883.03 A23,14.1 210 0 1 395.41,860.03" />
<path class="p" d="M436.29,881.07 A23,14.1 210 0 1 396.45,858.07" />
<path class="p" d="M437.32,879.10 A23,14.1 210 0 1 397.48,856.10" />
<ellipse class="w" cx="417.40" cy="867.60" rx="23" ry="14.1" transform="rotate(210 417.40 867.60)" />
<ellipse class="p" cx="417.60" cy="867.40" rx="20.6" ry="12.6" transform="rotate(210 417.60 867.40)" />
<path class="p" d="M401.29,856.79 L402.59,856.17 L404.02,855.70 L405.58,855.39 L407.25,855.22 L409.00,855.21 L410.83,855.35 L412.71,855.65 L414.62,856.10 L416.54,856.70 L418.46,857.43 L420.35,858.30 L422.20,859.29 L423.98,860.39 L425.68,861.60 L427.27,862.89 L428.75,864.26 L430.10,865.69 L431.29,867.17 L432.33,868.68 L433.20,870.20 L433.89,871.73 L434.39,873.24 L434.70,874.72 L434.82,876.15" />
<path class="p" d="M399.99,859.09 L401.29,858.47 L402.72,858.00 L404.28,857.69 L405.95,857.52 L407.70,857.51 L409.53,857.65 L411.41,857.95 L413.32,858.40 L415.24,859.00 L417.16,859.73 L419.05,860.60 L420.90,861.59 L422.68,862.69 L424.38,863.90 L425.97,865.19 L427.45,866.56 L428.80,867.99 L429.99,869.47 L431.03,870.98 L431.90,872.50 L432.59,874.03 L433.09,875.54 L433.40,877.02 L433.52,878.45" />
<path class="p" d="M398.69,861.39 L399.99,860.77 L401.42,860.30 L402.98,859.99 L404.65,859.82 L406.40,859.81 L408.23,859.95 L410.11,860.25 L412.02,860.70 L413.94,861.30 L415.86,862.03 L417.75,862.90 L419.60,863.89 L421.38,864.99 L423.08,866.20 L424.67,867.49 L426.15,868.86 L427.50,870.29 L428.69,871.77 L429.73,873.28 L430.60,874.80 L431.29,876.33 L431.79,877.84 L432.10,879.32 L432.22,880.75" />
<path class="p" d="M424.50,854.50 L416.30,868.80" />
</g>
<g id="w91604">
<path class="p" d="M402.80,892.80 L391.50,913.00" />
<ellipse class="w" cx="390.00" cy="914.90" rx="20.5" ry="13.6" transform="rotate(210 390.00 914.90)" />
<ellipse class="w" cx="390.80" cy="913.80" rx="20.5" ry="13.6" transform="rotate(210 390.80 913.80)" />
<ellipse class="p" cx="391.10" cy="913.60" rx="14.5" ry="9.4" transform="rotate(210 391.10 913.60)" />
<circle cx="390.3" cy="914.3" r="0.6" fill="#222"/>
</g>
<!-- 10_handle.svg -->
<g id="handle">
<path class="w" d="M540.8,945.8 L526.7,971.7 Q523,977 518.3,980 L292.5,1127.5 L307.5,1136 L531.7,986.7 Q537,983 540,976.7 L555,951.7 Z"/>
<path class="w" d="M575.32,929.10 L563.82,949.40 A14.8,9.5 210 0 1 538.18,934.60 L549.68,914.30 A14.8,9.5 210 0 1 575.32,929.10 Z"/><ellipse class="w" cx="562.50" cy="921.70" rx="14.8" ry="9.5" transform="rotate(210 562.50 921.70)" />
<path class="p" d="M554,917.5 L559.5,915.5 L568.5,918.5 L571.5,924 L567,927.8 L557.5,926.3 Z"/>
<path class="p" d="M557.5,926.3 L557.7,921.5 L554,917.5 M557.7,921.5 L567.5,923.3 L571.5,924 M567.5,923.3 L567,927.8"/>
<path class="w" d="M214.11,1173.57 L289.11,1124.07 A12.5,8.2 56.575188817396196 0 1 302.89,1144.93 L227.89,1194.43 A12.5,8.2 56.575188817396196 0 1 214.11,1173.57 Z"/><ellipse class="w" cx="221.00" cy="1184.00" rx="12.5" ry="8.2" transform="rotate(56.575188817396196 221.00 1184.00)" />
<path class="p" d="M224.95,1166.42 A12.5,8.2 56.575188817396196 0 1 238.72,1187.28" />
<path class="p" d="M227.86,1164.49 A12.5,8.2 56.575188817396196 0 1 241.64,1185.36" />
<path class="p" d="M240.78,1155.97 A12.5,8.2 56.575188817396196 0 1 254.55,1176.83" />
<path class="p" d="M243.70,1154.04 A12.5,8.2 56.575188817396196 0 1 257.47,1174.91" />
<path class="p" d="M256.61,1145.52 A12.5,8.2 56.575188817396196 0 1 270.39,1166.38" />
<path class="p" d="M259.53,1143.59 A12.5,8.2 56.575188817396196 0 1 273.30,1164.46" />
<path class="p" d="M272.45,1135.07 A12.5,8.2 56.575188817396196 0 1 286.22,1155.93" />
<path class="p" d="M275.36,1133.14 A12.5,8.2 56.575188817396196 0 1 289.14,1154.01" />
</g>
<g id="ringJ30061b">
<path class="p" d="M583.30,888.30 L563.30,923.30" />
<ellipse class="w" cx="575.80" cy="900.30" rx="16.5" ry="10.6" transform="rotate(210 575.80 900.30)" />
<ellipse class="p" cx="576.00" cy="900.20" rx="14.3" ry="8.8" transform="rotate(210 576.00 900.20)" />
<path class="p" d="M579.00,894.70 L581.50,890.50" />
</g>
<g id="shaft91277">
<path class="w" d="M576.7,879.2 L581.7,869 L590,866 L598.5,873 L598.3,881.7 L591.7,889.2 L583.3,885.8 Z"/>
<path class="p" d="M583.3,885.8 L587,876 L598.3,881.7 M587,876 L582,869.5"/>
<path class="w" d="M606.26,875.75 L604.86,878.25 A14.5,9.3 210 0 1 579.74,863.75 L581.14,861.25 A14.5,9.3 210 0 1 606.26,875.75 Z"/>
<path class="w" d="M678.86,751.55 L606.26,875.75 A14.5,9.3 210 0 1 581.14,861.25 L653.74,737.05 A14.5,9.3 210 0 1 678.86,751.55 Z"/>
<path class="p" d="M607.26,874.05 L606.54,875.04 L605.63,875.89 L604.52,876.58 L603.25,877.11 L601.83,877.45 L600.29,877.62 L598.66,877.60 L596.95,877.40 L595.21,877.02 L593.46,876.46 L591.73,875.73 L590.05,874.85 L588.45,873.84 L586.96,872.70 L585.60,871.47 L584.39,870.15 L583.37,868.78 L582.53,867.37 L581.91,865.95 L581.50,864.55 L581.32,863.18 L581.37,861.88 L581.64,860.66 L582.14,859.55" />
<ellipse class="w" cx="665.40" cy="745.80" rx="14.8" ry="9.5" transform="rotate(210 665.40 745.80)" />
<ellipse class="w" cx="666.30" cy="744.30" rx="14.8" ry="9.5" transform="rotate(210 666.30 744.30)" />
<ellipse class="p" cx="666.90" cy="743.30" rx="12.5" ry="7.8" transform="rotate(210 666.90 743.30)" />
<path class="w" d="M665,725 L671,721.3 L680.8,725 L684.5,731.8 L682.3,737.5 L678.5,746 L665,747.5 L660.5,737 Z"/>
<path class="p" d="M665,725 L668.8,732.5 L679.3,735.8 L684.5,731.8 M668.8,732.5 L665,747.5 M679.3,735.8 L678.5,746"/>
<ellipse class="p" cx="652.70" cy="785.80" rx="3.8" ry="2.3" transform="rotate(-25 652.70 785.80)" />
</g>
<g id="ringTop">
<path class="p" d="M684.50,712.30 L675.50,728.00" />
<ellipse class="w" cx="684.50" cy="712.30" rx="16.3" ry="10.8" transform="rotate(210 684.50 712.30)" />
<ellipse class="p" cx="684.70" cy="712.20" rx="14.2" ry="9" transform="rotate(210 684.70 712.20)" />
<path class="p" d="M683.00,715.00 L686.50,709.00" />
</g>
<g id="pinbolt">
<path class="w" d="M700.66,788.20 L683.16,818.70 A4.8,3 210 0 1 674.84,813.90 L692.34,783.40 A4.8,3 210 0 1 700.66,788.20 Z"/><ellipse class="w" cx="696.50" cy="785.80" rx="4.8" ry="3" transform="rotate(210 696.50 785.80)" />
<path class="w" d="M684.76,820.30 L677.56,833.00 A7,4.4 210 0 1 665.44,826.00 L672.64,813.30 A7,4.4 210 0 1 684.76,820.30 Z"/>
<path class="p" d="M678.06,832.00 A7,4.4 210 0 1 665.94,825.00" />
<path class="p" d="M679.10,830.20 A7,4.4 210 0 1 666.97,823.20" />
<path class="p" d="M680.13,828.40 A7,4.4 210 0 1 668.00,821.40" />
<path class="p" d="M681.16,826.60 A7,4.4 210 0 1 669.04,819.60" />
<path class="p" d="M682.20,824.80 A7,4.4 210 0 1 670.07,817.80" />
<path class="p" d="M683.23,823.00 A7,4.4 210 0 1 671.10,816.00" />
<path class="p" d="M684.26,821.20 A7,4.4 210 0 1 672.14,814.20" />
<path class="w" d="M661,829.5 L664.5,827.5 Q670,833 679,831.5 L678,838.5 L673,842 L665.5,840.5 L660.8,835.5 Z"/>
<path class="p" d="M661,829.5 L667,834.5 L678,838.5 M667,834.5 L665.5,840.5"/>
<path class="w" d="M656.95,872.45 L654.15,877.65 A12.3,8 210 0 1 632.85,865.35 L635.65,860.15 A12.3,8 210 0 1 656.95,872.45 Z"/><ellipse class="w" cx="646.30" cy="866.30" rx="12.3" ry="8" transform="rotate(210 646.30 866.30)" />
<ellipse class="p" cx="646.80" cy="866.00" rx="9.8" ry="6.2" transform="rotate(210 646.80 866.00)" />
<path class="w" d="M654.02,880.15 L653.35,881.08 L652.50,881.87 L651.48,882.53 L650.30,883.03 L648.99,883.36 L647.57,883.53 L646.06,883.53 L644.49,883.35 L642.89,883.01 L641.28,882.50 L639.69,881.84 L638.15,881.03 L636.68,880.10 L635.32,879.06 L634.07,877.92 L632.97,876.70 L632.04,875.43 L631.28,874.13 L630.71,872.81 L630.35,871.51 L630.19,870.24 L630.25,869.03 L630.51,867.89 L630.98,866.85" />
<path class="w" d="M653.02,881.95 L652.35,882.88 L651.50,883.67 L650.48,884.33 L649.30,884.83 L647.99,885.16 L646.57,885.33 L645.06,885.33 L643.49,885.15 L641.89,884.81 L640.28,884.30 L638.69,883.64 L637.15,882.83 L635.68,881.90 L634.32,880.86 L633.07,879.72 L631.97,878.50 L631.04,877.23 L630.28,875.93 L629.71,874.61 L629.35,873.31 L629.19,872.04 L629.25,870.83 L629.51,869.69 L629.98,868.65" />
<path class="d" style="stroke-dasharray:9 3 2 3" d="M664,841.5 L651,863"/>
</g>
<g id="bolt92301">
<path class="w" d="M760.26,726.50 L739.46,759.50 A4,2.6 210 0 1 732.54,755.50 L753.34,722.50 A4,2.6 210 0 1 760.26,726.50 Z"/>
<path d="M754.2,723.5 L757.5,715 Q759,712.8 761,714.5 L760.6,726 Z" fill="#666" stroke="#222" stroke-width="0.9"/>
<ellipse class="w" cx="759.60" cy="714.20" rx="1.6" ry="1.1" transform="rotate(30 759.60 714.20)" />
<path class="w" d="M740.18,763.10 L737.88,769.10 A7.6,4.8 210 0 1 724.72,761.50 L727.02,755.50 A7.6,4.8 210 0 1 740.18,763.10 Z"/><ellipse class="w" cx="733.60" cy="759.30" rx="7.6" ry="4.8" transform="rotate(210 733.60 759.30)" />
<path class="p" d="M738.48,767.60 A7.6,4.8 210 0 1 725.32,760.00" />
<path class="p" d="M731.00,768.50 L725.00,778.30" />
<path class="w" d="M709.51,775.65 L710.79,774.21 L712.65,773.25 L714.96,772.83 L717.57,773.00 L720.29,773.73 L722.95,774.98 L725.36,776.66 L727.35,778.65 L728.80,780.82 L729.60,783.03 L729.70,785.12 L729.09,786.95 L727.81,788.39 L725.95,789.35 L723.64,789.77 L721.03,789.60 L718.31,788.87 L715.65,787.62 L713.24,785.94 L711.25,783.95 L709.80,781.78 L709.00,779.57 L708.90,777.48 L709.51,775.65" />
<path class="w" d="M710.21,774.35 L711.49,772.91 L713.35,771.95 L715.66,771.53 L718.27,771.70 L720.99,772.43 L723.65,773.68 L726.06,775.36 L728.05,777.35 L729.50,779.52 L730.30,781.73 L730.40,783.82 L729.79,785.65 L728.51,787.09 L726.65,788.05 L724.34,788.47 L721.73,788.30 L719.01,787.57 L716.35,786.32 L713.94,784.64 L711.95,782.65 L710.50,780.48 L709.70,778.27 L709.60,776.18 L710.21,774.35" />
<path class="w" d="M730.61,780.50 L728.81,783.80 A9.6,6.2 210 0 1 712.19,774.20 L713.99,770.90 A9.6,6.2 210 0 1 730.61,780.50 Z"/><ellipse class="w" cx="722.30" cy="775.70" rx="9.6" ry="6.2" transform="rotate(210 722.30 775.70)" />
<ellipse class="p" cx="722.60" cy="775.50" rx="7.3" ry="4.5" transform="rotate(210 722.60 775.50)" />
<path class="p" d="M726.77,782.06 L726.31,782.28 L725.80,782.45 L725.25,782.57 L724.65,782.63 L724.03,782.64 L723.38,782.59 L722.72,782.48 L722.04,782.32 L721.36,782.11 L720.67,781.85 L720.00,781.55 L719.35,781.20 L718.72,780.81 L718.12,780.38 L717.55,779.92 L717.03,779.43 L716.55,778.92 L716.13,778.40 L715.76,777.86 L715.46,777.32 L715.21,776.78 L715.04,776.24 L714.93,775.71 L714.89,775.20" />
</g>
<!-- 11_centerlines.svg -->
<g id="centerlines" fill="none" stroke="#181818" stroke-width="1.05">
<path stroke-dasharray="21 4 10 4" d="M616,378 H742.5"/>
<path stroke-dasharray="12 3 4 3" d="M738.7,378 L759.2,412.5"/>
<path d="M578.7,623.3 L572,636.7"/>
<path stroke-dasharray="21 4 10 4" d="M572,636.7 H805.5"/>
<path stroke-dasharray="21 4 10 4" d="M684.5,712 H509"/>
<path d="M509,712 L497.8,731.5"/>
<path stroke-dasharray="13 3 4 3" d="M686.5,709 L735,627.5"/>
<path stroke-dasharray="13 3 4 3" d="M746,657.5 L691.3,751.3"/>
<path d="M691.3,751.3 L703.3,771.5"/>
<path stroke-dasharray="9 3" d="M703.3,771.5 L697.5,783"/>
<path stroke-dasharray="21 4 10 4" d="M575.8,900 H400"/>
<path stroke-dasharray="15 3 4 3" d="M934,341 L855,472.5"/>
<path stroke-dasharray="13 3 4 3" d="M864,657.5 L912,741.5"/>
<path stroke-dasharray="10 3 3 3" d="M761,711.5 L777.5,684.5"/>
<path stroke-dasharray="10 3 3 3" d="M777.8,684.5 L759,716"/>
</g>


<g id="labels" font-family="'Liberation Sans', sans-serif" fill="#1c1c1c">
<text transform="translate(215.70,137.50) rotate(-90)" font-size="18" textLength="83.5" lengthAdjust="spacingAndGlyphs">16.04.08</text>
<text transform="translate(218.40,1141.00) rotate(-90)" font-size="18.5" textLength="71.0" lengthAdjust="spacingAndGlyphs">QA11M-B</text>
<text transform="translate(211.90,464.00) rotate(-90)" font-size="16" textLength="133.0" lengthAdjust="spacingAndGlyphs">07/05-&gt;92117(6)</text>
<text transform="translate(250.40,401.00) rotate(-90)" font-size="16" textLength="192.0" lengthAdjust="spacingAndGlyphs">07/05-&gt;HM06-016C08(2)</text>
<text transform="translate(343.40,109.00) rotate(-90)" font-size="16" textLength="99.0" lengthAdjust="spacingAndGlyphs">GE06-060(1)</text>
<text transform="translate(401.90,109.00) rotate(-90)" font-size="16" textLength="99.0" lengthAdjust="spacingAndGlyphs">GE10-060(1)</text>
<text transform="translate(430.40,285.00) rotate(-90)" font-size="16" textLength="61.0" lengthAdjust="spacingAndGlyphs">2862(1)</text>
<text transform="translate(326.90,456.00) rotate(-90)" font-size="16" textLength="68.5" lengthAdjust="spacingAndGlyphs">91425(1)</text>
<text transform="translate(371.90,456.00) rotate(-90)" font-size="16" textLength="68.5" lengthAdjust="spacingAndGlyphs">HFR06(2)</text>
<text transform="translate(401.90,456.00) rotate(-90)" font-size="16" textLength="68.5" lengthAdjust="spacingAndGlyphs">91259(1)</text>
<text transform="translate(429.40,451.00) rotate(-90)" font-size="16" textLength="58.5" lengthAdjust="spacingAndGlyphs">2861(1)</text>
<text transform="translate(490.40,457.50) rotate(-90)" font-size="16" textLength="70.0" lengthAdjust="spacingAndGlyphs">91258(1)</text>
<text transform="translate(519.40,457.50) rotate(-90)" font-size="16" textLength="70.0" lengthAdjust="spacingAndGlyphs">91280(1)</text>
<text transform="translate(550.40,517.50) rotate(-90)" font-size="16" textLength="135.0" lengthAdjust="spacingAndGlyphs">07/05-&gt;92279(1)</text>
<text transform="translate(575.40,522.50) rotate(-90)" font-size="16" textLength="173.5" lengthAdjust="spacingAndGlyphs">07/05-&gt;91316-100(1)</text>
<text transform="translate(609.40,446.00) rotate(-90)" font-size="16" textLength="60.0" lengthAdjust="spacingAndGlyphs">RP06(1)</text>
<text transform="translate(638.40,457.50) rotate(-90)" font-size="16" textLength="71.5" lengthAdjust="spacingAndGlyphs">HFR06(1)</text>
<text transform="translate(666.90,440.00) rotate(-90)" font-size="16" textLength="54.0" lengthAdjust="spacingAndGlyphs">GM8(1)</text>
<text transform="translate(640.40,109.00) rotate(-90)" font-size="16" textLength="70.0" lengthAdjust="spacingAndGlyphs">91275(1)</text>
<text transform="translate(669.90,110.00) rotate(-90)" font-size="16" textLength="81.0" lengthAdjust="spacingAndGlyphs">J30003(1)</text>
<text transform="translate(729.40,109.00) rotate(-90)" font-size="16" textLength="70.0" lengthAdjust="spacingAndGlyphs">80207(1)</text>
<text transform="translate(818.90,105.00) rotate(-90)" font-size="16" textLength="62.5" lengthAdjust="spacingAndGlyphs">2854(1)</text>
<text transform="translate(938.40,109.00) rotate(-90)" font-size="16" textLength="69.0" lengthAdjust="spacingAndGlyphs">91281(2)</text>
<text transform="translate(967.40,109.00) rotate(-90)" font-size="16" textLength="69.0" lengthAdjust="spacingAndGlyphs">91308(2)</text>
<text transform="translate(967.40,486.00) rotate(-90)" font-size="16" textLength="98.5" lengthAdjust="spacingAndGlyphs">RAC30294(1)</text>
<text transform="translate(994.40,707.50) rotate(-90)" font-size="16" textLength="98.5" lengthAdjust="spacingAndGlyphs">GE05-060(1)</text>
<text transform="translate(213.15,747.50) rotate(-90)" font-size="16" textLength="170.5" lengthAdjust="spacingAndGlyphs">07/05-&gt;91316-100(6)</text>
<text transform="translate(238.90,765.00) rotate(-90)" font-size="16" textLength="134.0" lengthAdjust="spacingAndGlyphs">02/02-&gt;91768(1)</text>
<text transform="translate(370.40,705.00) rotate(-90)" font-size="16" textLength="96.0" lengthAdjust="spacingAndGlyphs">GE06-040(1)</text>
<text transform="translate(399.40,775.00) rotate(-90)" font-size="16" textLength="97.5" lengthAdjust="spacingAndGlyphs">GE10-040(1)</text>
<text transform="translate(369.90,824.00) rotate(-90)" font-size="16" textLength="60.0" lengthAdjust="spacingAndGlyphs">2863(1)</text>
<text transform="translate(461.40,717.50) rotate(-90)" font-size="12.5" textLength="100.0" lengthAdjust="spacingAndGlyphs">91605-100(0A6)</text>
<text transform="translate(550.40,702.50) rotate(-90)" font-size="16" textLength="127.5" lengthAdjust="spacingAndGlyphs">07/05-&gt;RP08M(2)</text>
<text transform="translate(578.40,829.00) rotate(-90)" font-size="16" textLength="69.0" lengthAdjust="spacingAndGlyphs">91277(1)</text>
<text transform="translate(339.40,946.00) rotate(-90)" font-size="16" textLength="69.0" lengthAdjust="spacingAndGlyphs">91257(1)</text>
<text transform="translate(368.90,1054.00) rotate(-90)" font-size="16" textLength="70.0" lengthAdjust="spacingAndGlyphs">92621(1)</text>
<text transform="translate(396.90,1042.50) rotate(-90)" font-size="12.5" textLength="100.0" lengthAdjust="spacingAndGlyphs">91604-100(0A6)</text>
<text transform="translate(606.90,1065.00) rotate(-90)" font-size="16" textLength="80.0" lengthAdjust="spacingAndGlyphs">J30061(2)</text>
<text transform="translate(725.40,949.00) rotate(-90)" font-size="16" textLength="71.5" lengthAdjust="spacingAndGlyphs">91309(1)</text>
<text transform="translate(754.40,980.00) rotate(-90)" font-size="16" textLength="135.0" lengthAdjust="spacingAndGlyphs">07/05-&gt;92301(1)</text>
<text transform="translate(813.40,1014.00) rotate(-90)" font-size="16" textLength="153.0" lengthAdjust="spacingAndGlyphs">07/05-&gt;92115-1(1)</text>
<text transform="translate(904.40,947.50) rotate(-90)" font-size="16" textLength="69.5" lengthAdjust="spacingAndGlyphs">91406(1)</text>
<text transform="translate(933.40,947.50) rotate(-90)" font-size="16" textLength="69.5" lengthAdjust="spacingAndGlyphs">91405(1)</text>
<text transform="translate(993.40,958.00) rotate(-90)" font-size="16" textLength="80.0" lengthAdjust="spacingAndGlyphs">J30062(1)</text>
<text transform="translate(791.10,1126.70) rotate(-90)" font-size="20" textLength="77.7" lengthAdjust="spacingAndGlyphs">GRAISSE</text>
<text transform="translate(812.70,1132.50) rotate(-90)" font-size="20" textLength="88.5" lengthAdjust="spacingAndGlyphs">SPECIALE</text>
<text transform="translate(833.40,1121.00) rotate(-90)" font-size="20" textLength="66.0" lengthAdjust="spacingAndGlyphs">CARTER</text>
<text transform="translate(855.40,1115.00) rotate(-90)" font-size="20" textLength="54.0" lengthAdjust="spacingAndGlyphs">(1KG)</text>
</g>
<g id="leaders" fill="none" stroke="#181818" stroke-width="1.1">
<polyline points="213.75,467.5 213.75,514"/>
<polyline points="247.5,415 236,485"/>
<polyline points="350.75,64.5 350.75,177.5"/>
<polyline points="410,64.5 410,175"/>
<polyline points="438,285 438,239 480,211"/>
<polyline points="334,414 334,472.5 315,482.5"/>
<polyline points="379,414 379,491 369,497.5"/>
<polyline points="408,414 408,520 376,539"/>
<polyline points="437.5,414 437.5,522.5 487,552"/>
<polyline points="497.5,445 497.5,386 569,347.5"/>
<polyline points="527.5,414 527.5,532.5 587.5,590"/>
<polyline points="557.5,414 557.5,529 606,559"/>
<polyline points="584,401 584,511 621,535"/>
<polyline points="617,414 617,512.5 631,522.5"/>
<polyline points="646,414 646,499"/>
<polyline points="675,414 675,444 711,465"/>
<polyline points="648,66 648,111 622.5,126"/>
<polyline points="678,66 678,244"/>
<polyline points="737.5,66 737.5,310"/>
<polyline points="826,66 826,369"/>
<polyline points="945.5,66 945.5,280 954,286"/>
<polyline points="975,66 975,236"/>
<polyline points="974,414 974,522.5 989,531"/>
<polyline points="1002,651 1002,727.5 952.5,697.5"/>
<polyline points="217.5,595 217.5,550"/>
<polyline points="241,665 241,619.5 259,610"/>
<polyline points="377.5,695 377.5,655 411,672.5"/>
<polyline points="407,776 407,710 440,727.5"/>
<polyline points="377.5,824 377.5,779 427.5,807.5"/>
<polyline points="466,717.5 466,616 451,607.5"/>
<polyline points="557,674 557,636 572.5,629"/>
<polyline points="586,825 586,782.5 616,799"/>
<polyline points="346,936 346,896 388.5,871.8"/>
<polyline points="376,1002.5 376,1072.5"/>
<polyline points="406,1041 406,927.5"/>
<polyline points="614,1049 614,922.5 590,909"/>
<polyline points="733,936 733,790.5 730.3,787.3"/>
<polyline points="762.5,936 762.5,757.3 746.8,749"/>
<polyline points="823,902.5 823,1034"/>
<polyline points="912,937.5 912,759"/>
<polyline points="942,937.5 942,855 958,846"/>
<polyline points="1001,937.5 1001,819 943,785"/>
</g>
</svg>
</body></html>
